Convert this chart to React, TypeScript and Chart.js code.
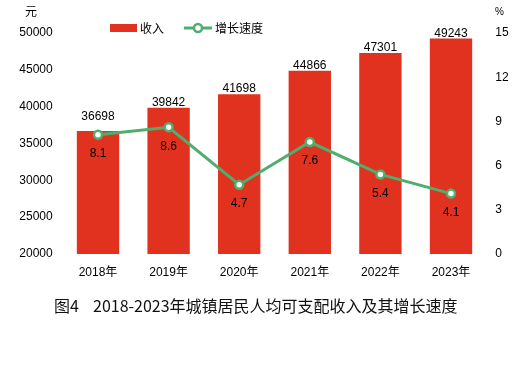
import React, { useEffect, useRef } from "react";
import { Chart, registerables } from "chart.js";

Chart.register(...registerables);

const years = ["2018年", "2019年", "2020年", "2021年", "2022年", "2023年"];
const income = [36698, 39842, 41698, 44866, 47301, 49243];
const growth = [8.1, 8.6, 4.7, 7.6, 5.4, 4.1];
const leftTicks = { min: 20000, max: 50000, step: 5000 };
const rightTicks = { min: 0, max: 15, step: 3 };
const titleNo = "图4";
const titleText = "2018-2023年城镇居民人均可支配收入及其增长速度";
const incomeName = "收入";
const growthName = "增长速度";
const leftUnit = "元";
const rightUnit = "%";

const RED = "#E0321F";
const GREEN = "#4FAE6D";
const NUM_FONT = '"Liberation Sans", Arial, "Noto Sans CJK SC", sans-serif';
const CJK_FONT = '"Noto Sans CJK SC", "Liberation Sans", sans-serif';

const decorPlugin = {
  id: "decor",
  afterDatasetsDraw(chart: any) {
    const ctx = chart.ctx;
    const barMeta = chart.getDatasetMeta(1);
    const lineMeta = chart.getDatasetMeta(0);
    ctx.save();
    ctx.fillStyle = "#000";
    ctx.textAlign = "center";
    ctx.textBaseline = "middle";
    ctx.font = `12px ${NUM_FONT}`;
    // bar value labels
    barMeta.data.forEach((bar: any, i: number) => {
      let y = bar.y - 5;
      const pt = lineMeta.data[i];
      if (pt && y + 7 > pt.y - 6 && y - 7 < pt.y + 6) {
        y = pt.y - 18;
      }
      ctx.fillText(String(income[i]), bar.x, y);
    });
    // line value labels
    lineMeta.data.forEach((pt: any, i: number) => {
      ctx.fillText(growth[i].toFixed(1), pt.x, pt.y + 19);
    });
    ctx.restore();
  },
  afterDraw(chart: any) {
    const ctx = chart.ctx;
    ctx.save();
    ctx.fillStyle = "#000";
    ctx.textBaseline = "middle";
    // units
    ctx.font = `12px ${CJK_FONT}`;
    ctx.textAlign = "center";
    ctx.fillText(leftUnit, 31, 11);
    ctx.font = `10px ${NUM_FONT}`;
    ctx.textAlign = "left";
    ctx.fillText(rightUnit, 495, 12);
    // legend
    ctx.fillStyle = RED;
    ctx.fillRect(110, 24, 27, 8);
    ctx.fillStyle = "#000";
    ctx.font = `12px ${CJK_FONT}`;
    ctx.textAlign = "left";
    ctx.fillText(incomeName, 140, 28);
    ctx.strokeStyle = GREEN;
    ctx.lineWidth = 3;
    ctx.beginPath();
    ctx.moveTo(184, 28);
    ctx.lineTo(212, 28);
    ctx.stroke();
    ctx.beginPath();
    ctx.arc(198, 28, 4, 0, Math.PI * 2);
    ctx.fillStyle = "#fff";
    ctx.fill();
    ctx.lineWidth = 2.5;
    ctx.stroke();
    ctx.fillStyle = "#000";
    ctx.fillText(growthName, 215, 28);
    // title
    ctx.fillStyle = "#111";
    ctx.font = `16px ${CJK_FONT}`;
    ctx.fillText(titleNo, 54, 306);
    ctx.fillText(titleText, 93, 306);
    ctx.restore();
  },
};

export default function App() {
  const ref = useRef<HTMLCanvasElement>(null);
  useEffect(() => {
    if (!ref.current) return;
    const plain = (v: any) => String(v);
    const chart = new Chart(ref.current, {
      type: "bar",
      data: {
        labels: years,
        datasets: [
          {
            type: "line",
            label: growthName,
            data: growth,
            yAxisID: "y1",
            borderColor: GREEN,
            borderWidth: 3,
            pointRadius: 4,
            pointBorderWidth: 2.5,
            pointBackgroundColor: "#fff",
            pointBorderColor: GREEN,
            tension: 0,
            order: 0,
          } as any,
          {
            type: "bar",
            label: incomeName,
            data: income,
            yAxisID: "y",
            backgroundColor: RED,
            barPercentage: 0.6,
            categoryPercentage: 1.0,
            order: 1,
          } as any,
        ],
      },
      plugins: [decorPlugin],
      options: {
        responsive: false,
        animation: false,
        devicePixelRatio: 1,
        layout: { padding: { top: 33, left: 0, right: 0, bottom: 0 } },
        plugins: {
          legend: { display: false },
          tooltip: { enabled: false },
          title: { display: false },
        },
        scales: {
          x: {
            grid: { display: false, drawTicks: false },
            border: { display: false },
            ticks: { color: "#000", font: { size: 12, family: NUM_FONT }, padding: 11 },
            afterFit: (s: any) => {
              s.height = 122;
            },
          },
          y: {
            position: "left",
            min: leftTicks.min,
            max: leftTicks.max,
            grid: { display: false, drawTicks: false },
            border: { display: false },
            ticks: {
              stepSize: leftTicks.step,
              callback: plain,
              color: "#000",
              font: { size: 12, family: NUM_FONT },
              padding: 10,
            },
            afterFit: (s: any) => {
              s.width = 62.7;
            },
          },
          y1: {
            position: "right",
            min: rightTicks.min,
            max: rightTicks.max,
            grid: { display: false, drawTicks: false },
            border: { display: false },
            ticks: {
              stepSize: rightTicks.step,
              callback: plain,
              color: "#000",
              font: { size: 12, family: NUM_FONT },
              padding: 9,
            },
            afterFit: (s: any) => {
              s.width = 36.7;
            },
          },
        },
      } as any,
    });
    return () => chart.destroy();
  }, []);
  return (
    <div style={{ position: "absolute", left: 0, top: 0, width: 523, height: 376, background: "#fff" }}>
      <canvas ref={ref} width={523} height={376} style={{ display: "block" }} />
    </div>
  );
}
